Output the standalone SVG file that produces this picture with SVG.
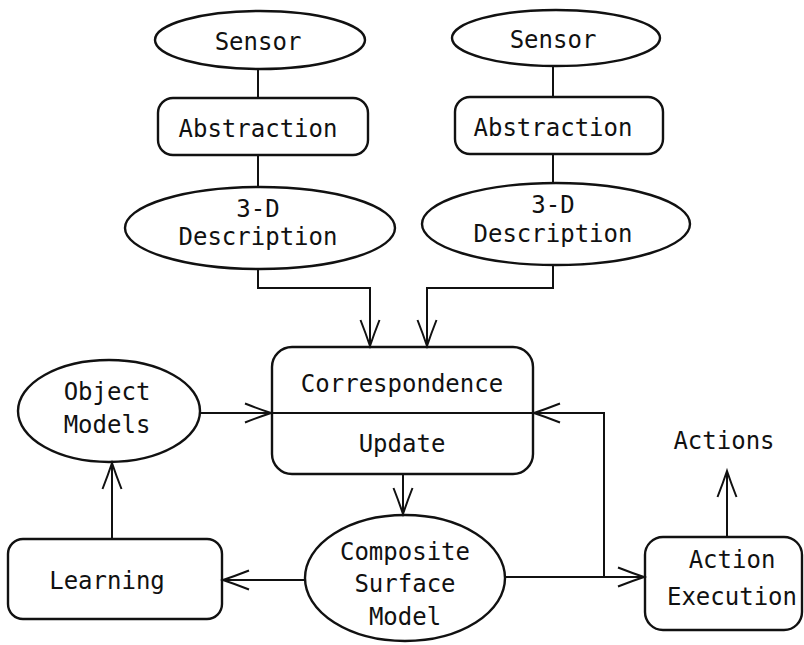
<svg xmlns="http://www.w3.org/2000/svg" width="804" height="645" viewBox="0 0 804 645">
  <style>
    .shape { fill: none; stroke: #111; stroke-width: 2.4; }
    .wire { fill: none; stroke: #111; stroke-width: 2; }
    .label { font-family: "DejaVu Sans Mono", "Liberation Mono", monospace; font-size: 24px; fill: #111; text-anchor: middle; }
  </style>
  <defs>
    <marker id="open-arrow" markerUnits="userSpaceOnUse" markerWidth="32" markerHeight="24" viewBox="-28 -12 32 24" refX="0" refY="0" orient="auto" overflow="visible">
      <path d="M-26,-9.5 Q-12,-4 0,0 Q-12,4 -26,9.5" fill="none" stroke="#111" stroke-width="2"/>
    </marker>
  </defs>
  <rect width="804" height="645" fill="#fff"/>

  <!-- left sensor chain -->
  <g id="sensor-left">
    <ellipse class="shape" cx="260" cy="40" rx="105" ry="29"/>
    <text class="label" x="258" y="50">Sensor</text>
  </g>
  <g id="abstraction-left">
    <rect class="shape" x="158" y="98" width="210" height="57" rx="15"/>
    <text class="label" x="258" y="137">Abstraction</text>
  </g>
  <g id="description-left">
    <ellipse class="shape" cx="260" cy="228" rx="135" ry="41"/>
    <text class="label" x="258" y="217">3-D</text>
    <text class="label" x="258" y="245">Description</text>
  </g>

  <!-- right sensor chain -->
  <g id="sensor-right">
    <ellipse class="shape" cx="556" cy="38" rx="104" ry="28"/>
    <text class="label" x="553" y="48">Sensor</text>
  </g>
  <g id="abstraction-right">
    <rect class="shape" x="455" y="97" width="208" height="57" rx="15"/>
    <text class="label" x="553" y="136">Abstraction</text>
  </g>
  <g id="description-right">
    <ellipse class="shape" cx="556" cy="224" rx="134" ry="41"/>
    <text class="label" x="553" y="213">3-D</text>
    <text class="label" x="553" y="242">Description</text>
  </g>

  <!-- central model -->
  <g id="correspondence-update">
    <rect class="shape" x="272" y="347" width="261" height="127" rx="20"/>
    <line class="wire" x1="272" y1="413" x2="533" y2="413"/>
    <text class="label" x="402" y="392">Correspondence</text>
    <text class="label" x="402" y="452">Update</text>
  </g>
  <g id="object-models">
    <ellipse class="shape" cx="109" cy="411" rx="91" ry="51"/>
    <text class="label" x="107" y="400">Object</text>
    <text class="label" x="107" y="433">Models</text>
  </g>
  <g id="learning">
    <rect class="shape" x="8" y="539" width="214" height="80" rx="15"/>
    <text class="label" x="107" y="589">Learning</text>
  </g>
  <g id="composite-surface-model">
    <ellipse class="shape" cx="405" cy="578" rx="100" ry="63"/>
    <text class="label" x="405" y="560">Composite</text>
    <text class="label" x="405" y="592">Surface</text>
    <text class="label" x="405" y="625">Model</text>
  </g>
  <g id="action-execution">
    <rect class="shape" x="645" y="537" width="157" height="93" rx="18"/>
    <text class="label" x="732" y="568">Action</text>
    <text class="label" x="732" y="605">Execution</text>
  </g>
  <g id="actions">
    <text class="label" x="724" y="449">Actions</text>
  </g>

  <!-- connectors -->
  <g id="connectors">
    <line class="wire" x1="258" y1="69" x2="258" y2="98"/>
    <line class="wire" x1="258" y1="155" x2="258" y2="187"/>
    <line class="wire" x1="553" y1="66" x2="553" y2="97"/>
    <line class="wire" x1="553" y1="154" x2="553" y2="183"/>
    <path class="wire" d="M258,269 V288 H370 V346" marker-end="url(#open-arrow)"/>
    <path class="wire" d="M553,265 V288 H427 V346" marker-end="url(#open-arrow)"/>
    <path class="wire" d="M200,413 H271" marker-end="url(#open-arrow)"/>
    <path class="wire" d="M403,474 V514" marker-end="url(#open-arrow)"/>
    <path class="wire" d="M305,580 H223" marker-end="url(#open-arrow)"/>
    <path class="wire" d="M112,539 V463" marker-end="url(#open-arrow)"/>
    <path class="wire" d="M505,577 H644" marker-end="url(#open-arrow)"/>
    <path class="wire" d="M604,577 V413 H534" marker-end="url(#open-arrow)"/>
    <path class="wire" d="M727,537 V471" marker-end="url(#open-arrow)"/>
  </g>
</svg>
